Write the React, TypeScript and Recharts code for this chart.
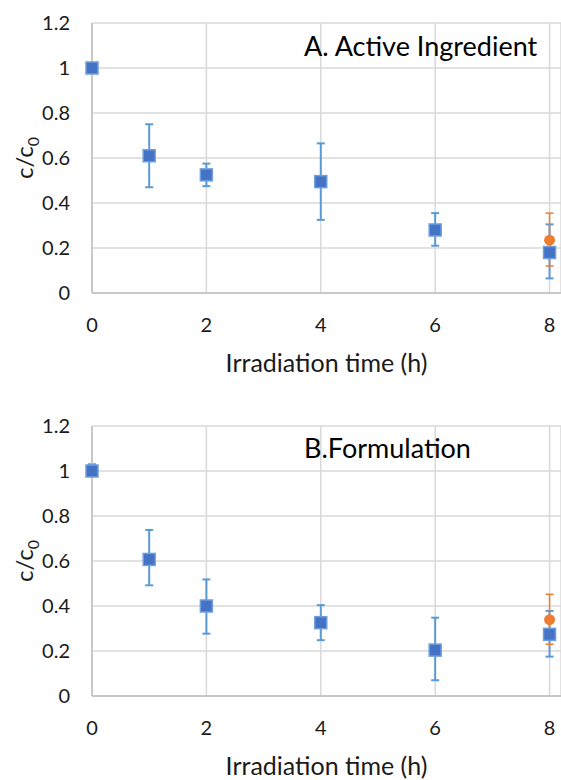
import React from "react";
import { ScatterChart, Scatter, XAxis, YAxis, CartesianGrid, ErrorBar } from "recharts";

const times = [0, 1, 2, 4, 6, 8];
const xTicks = [0, 2, 4, 6, 8];
const yTicks = [0, 0.2, 0.4, 0.6, 0.8, 1, 1.2];

// A. Active Ingredient
const aMean = [1.0, 0.61, 0.525, 0.495, 0.28, 0.18];
const aHigh = [1.0, 0.75, 0.575, 0.665, 0.355, 0.305];
const aLow = [1.0, 0.47, 0.475, 0.325, 0.21, 0.065];
const aExtraTime = [8];
const aExtraMean = [0.235];
const aExtraHigh = [0.355];
const aExtraLow = [0.12];

// B. Formulation
const bMean = [1.0, 0.607, 0.4, 0.326, 0.204, 0.274];
const bHigh = [1.03, 0.738, 0.518, 0.404, 0.348, 0.378];
const bLow = [0.98, 0.492, 0.277, 0.248, 0.07, 0.175];
const bExtraTime = [8];
const bExtraMean = [0.339];
const bExtraHigh = [0.452];
const bExtraLow = [0.23];

function build(x: number[], mean: number[], hi: number[], lo: number[]) {
  return x.map((t, i) => ({ x: t, y: mean[i], err: [mean[i] - lo[i], hi[i] - mean[i]] }));
}

const FONT = "Lato, 'Open Sans', sans-serif";
const TEXT = "#1a1a1a";

const Square = (p: any) => (
  <rect x={p.cx - 6} y={p.cy - 6} width={12} height={12} fill="#4472C4" stroke="#6F9FDC" strokeWidth={1.5} />
);
const Dot = (p: any) => <circle cx={p.cx} cy={p.cy} r={5.5} fill="#ED7D31" />;

const YLabel = (props: any) => {
  const vb = props.viewBox || { y: 0, height: 0 };
  const cy = vb.y + vb.height / 2;
  return (
    <text transform={`translate(33, ${cy}) rotate(-90)`} textAnchor="middle" fontSize={24} fontFamily={FONT} fill={TEXT}>
      c/c<tspan fontSize={16} dy={6}>0</tspan>
    </text>
  );
};

type PanelProps = {
  main: any[];
  extra: any[];
  height: number;
  top: number;
  title: string;
  titleY: number;
};

function Panel({ main, extra, height, top, title, titleY }: PanelProps) {
  return (
    <div style={{ position: "relative", width: 561, height }}>
      <ScatterChart width={561} height={height} margin={{ top, right: 0, bottom: height - top - 270 - 80, left: 32 }}>
        <CartesianGrid stroke="#D9D9D9" strokeWidth={1.5} />
        <XAxis
          type="number"
          dataKey="x"
          domain={[0, 8.2]}
          ticks={xTicks}
          height={80}
          tickSize={0}
          tickMargin={25}
          stroke="#BFBFBF"
          strokeWidth={1.5}
          tick={{ fontSize: 20, fontFamily: FONT, fill: TEXT }}
          label={{ value: "Irradiation time (h)", position: "insideBottom", offset: 1, fontSize: 25, fontFamily: FONT, fill: TEXT }}
        />
        <YAxis
          type="number"
          dataKey="y"
          domain={[0, 1.2]}
          ticks={yTicks}
          width={60}
          tickSize={0}
          tickMargin={22}
          stroke="#BFBFBF"
          strokeWidth={1.5}
          tick={{ fontSize: 20, fontFamily: FONT, fill: TEXT }}
          label={{ content: YLabel }}
        />
        <Scatter data={main} shape={Square} isAnimationActive={false}>
          <ErrorBar dataKey="err" direction="y" width={4} stroke="#5B9BD5" strokeWidth={2} isAnimationActive={false} />
        </Scatter>
        <Scatter data={extra} shape={Dot} isAnimationActive={false}>
          <ErrorBar dataKey="err" direction="y" width={4} stroke="#ED7D31" strokeWidth={1.5} isAnimationActive={false} />
        </Scatter>
      </ScatterChart>
      <svg width={561} height={height} style={{ position: "absolute", left: 0, top: 0, pointerEvents: "none" }}>
        <text x={304} y={titleY} fontSize={27} fontFamily={FONT} fill="#000">
          {title}
        </text>
      </svg>
    </div>
  );
}

export default function App() {
  const aMain = build(times, aMean, aHigh, aLow);
  const aOrange = build(aExtraTime, aExtraMean, aExtraHigh, aExtraLow);
  const bMain = build(times, bMean, bHigh, bLow);
  const bOrange = build(bExtraTime, bExtraMean, bExtraHigh, bExtraLow);

  return (
    <div style={{ position: "absolute", left: 0, top: 0, width: 561, height: 780, background: "#fff" }}>
      <Panel main={aMain} extra={aOrange} height={400} top={23} title="A. Active Ingredient" titleY={56} />
      <Panel main={bMain} extra={bOrange} height={380} top={26} title="B.Formulation" titleY={58} />
    </div>
  );
}
